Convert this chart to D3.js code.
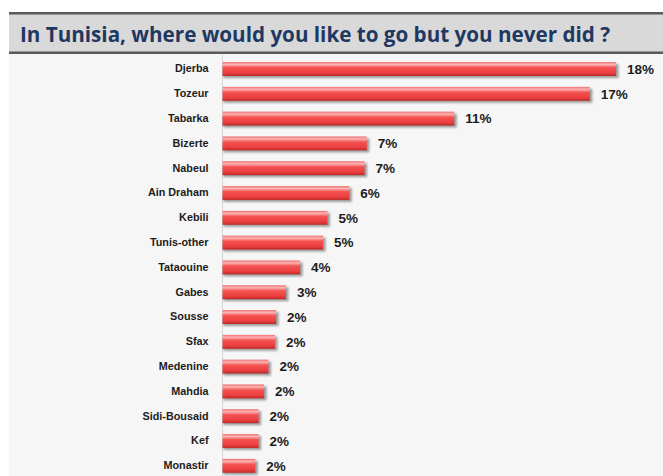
<!DOCTYPE html>
<html>
<head>
<meta charset="utf-8">
<script src="https://cdn.jsdelivr.net/npm/d3@7"></script>
<style>
  body { margin: 0; background: #fff; }
</style>
</head>
<body>
<script>
// Data
var cities = ["Djerba", "Tozeur", "Tabarka", "Bizerte", "Nabeul", "Ain Draham", "Kebili",
  "Tunis-other", "Tataouine", "Gabes", "Sousse", "Sfax", "Medenine", "Mahdia",
  "Sidi-Bousaid", "Kef", "Monastir"];
// bar lengths (estimated %)
var values = [18.0, 16.8, 10.6, 6.6, 6.5, 5.8, 4.8, 4.6, 3.55, 2.9, 2.45, 2.4, 2.1, 1.9, 1.65, 1.65, 1.5];
// printed labels (%)
var shown = [18, 17, 11, 7, 7, 6, 5, 5, 4, 3, 2, 2, 2, 2, 2, 2, 2];
var title = "In Tunisia, where would you like to go but you never did ?";

var W = 663, H = 476;

var svg = d3.select("body").append("svg")
    .attr("width", W)
    .attr("height", H);

var defs = svg.append("defs");

var grad = defs.append("linearGradient")
    .attr("id", "barGrad")
    .attr("x1", 0).attr("y1", 0).attr("x2", 0).attr("y2", 1);
grad.append("stop").attr("offset", "0%").attr("stop-color", "#f07070");
grad.append("stop").attr("offset", "18%").attr("stop-color", "#fcb4b4");
grad.append("stop").attr("offset", "40%").attr("stop-color", "#f55252");
grad.append("stop").attr("offset", "80%").attr("stop-color", "#ea3d3d");
grad.append("stop").attr("offset", "100%").attr("stop-color", "#b82828");

var blur = defs.append("filter").attr("id", "shadow")
    .attr("x", "-10%").attr("y", "-50%").attr("width", "130%").attr("height", "200%");
blur.append("feGaussianBlur").attr("stdDeviation", 1.3);

// panel background
svg.append("rect")
    .attr("x", 9).attr("y", 53)
    .attr("width", W - 9).attr("height", H - 53)
    .attr("fill", "#f6f6f6");

// title band
svg.append("rect")
    .attr("x", 9).attr("y", 13)
    .attr("width", W - 9).attr("height", 40)
    .attr("fill", "#d9d9d9");
svg.append("rect")
    .attr("x", 9).attr("y", 12)
    .attr("width", W - 9).attr("height", 2.5)
    .attr("fill", "#5a5a5a");
svg.append("rect")
    .attr("x", 9).attr("y", 51.5)
    .attr("width", W - 9).attr("height", 2.5)
    .attr("fill", "#5a5a5a");

svg.append("text")
    .attr("x", 20)
    .attr("y", 42)
    .attr("textLength", 590)
    .attr("lengthAdjust", "spacingAndGlyphs")
    .style("font-family", "'Open Sans', sans-serif")
    .style("font-weight", "bold")
    .style("font-size", "20.5px")
    .style("fill", "#1f3862")
    .text(title);

// scales
var x = d3.scaleLinear()
    .domain([0, 18])
    .range([222.5, 616]);

var y = d3.scaleBand()
    .domain(cities)
    .range([56.6, 478.2])
    .paddingInner(0.44)
    .paddingOuter(0.22);

// axis line
svg.append("line")
    .attr("x1", x(0)).attr("x2", x(0))
    .attr("y1", 55).attr("y2", H)
    .attr("stroke", "#d4d4d4")
    .attr("stroke-width", 1);

var data = cities.map(function(c, i) { return {name: c, value: values[i], label: shown[i]}; });

var g = svg.append("g");

// shadows
g.selectAll(".shadow").data(data).enter()
  .append("rect")
    .attr("class", "shadow")
    .attr("x", x(0) + 1)
    .attr("y", function(d) { return y(d.name) + 2; })
    .attr("width", function(d) { return x(d.value) - x(0) + 1.5; })
    .attr("height", y.bandwidth())
    .attr("fill", "#7a7a7a")
    .attr("opacity", 0.75)
    .attr("filter", "url(#shadow)");

g.selectAll(".bar").data(data).enter()
  .append("rect")
    .attr("class", "bar")
    .attr("x", x(0))
    .attr("y", function(d) { return y(d.name); })
    .attr("width", function(d) { return x(d.value) - x(0); })
    .attr("height", y.bandwidth())
    .attr("fill", "url(#barGrad)");

g.selectAll(".value").data(data).enter()
  .append("text")
    .attr("class", "value")
    .attr("x", function(d) { return x(d.value) + 11; })
    .attr("y", function(d) { return y(d.name) + y.bandwidth() / 2; })
    .attr("dy", "0.36em")
    .style("font-family", "'Liberation Sans', Arial, sans-serif")
    .style("font-weight", "bold")
    .style("font-size", "13.5px")
    .style("fill", "#1c1c1c")
    .text(function(d) { return d.label + "%"; });

// category axis
var axis = svg.append("g")
    .attr("transform", "translate(" + (x(0) - 14) + ",0)")
    .call(d3.axisLeft(y).tickSize(0).tickPadding(0));
axis.select(".domain").remove();
axis.selectAll("text")
    .style("font-family", "'Liberation Sans', Arial, sans-serif")
    .style("font-weight", "bold")
    .style("font-size", "10.8px")
    .style("fill", "#1c1c1c");
</script>
</body>
</html>
